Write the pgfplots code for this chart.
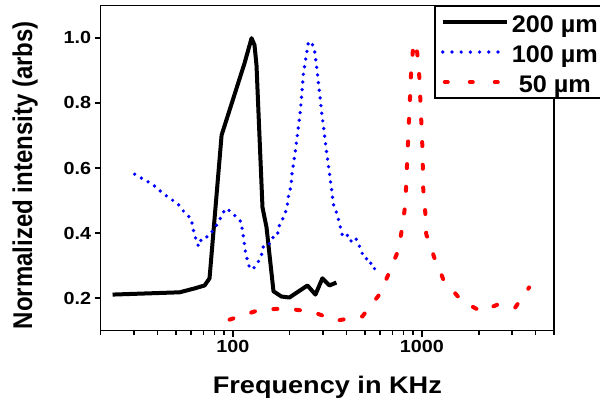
\documentclass[border=0pt]{standalone}
\usepackage{fontspec}
\setmainfont{Liberation Sans}[FakeStretch=1.13]
\newfontfamily\ylabfont{Liberation Sans}
\newfontfamily\legfont{Liberation Sans}[FakeStretch=1.05]
\usepackage{graphicx}
\usepackage{pgfplots}
\pgfplotsset{compat=1.18}

\begin{document}
\begin{tikzpicture}
\begin{axis}[
  at={(0,0)}, anchor=south west,
  width=453.3pt, height=325.4pt, scale only axis,
  xmode=log, xmin=20, xmax=5000,
  ymin=0.1, ymax=1.1,
  xtick={100,1000}, xticklabels={100,1000},
  minor xtick={20,30,40,50,60,70,80,90,200,300,400,500,600,700,800,900,2000,3000,4000,5000},
  ytick={0.2,0.4,0.6,0.8,1.0}, yticklabels={0.2,0.4,0.6,0.8,1.0},
  tick align=outside, xtick pos=left, ytick pos=left,
  major tick length=6pt, minor tick length=4pt,
  every tick/.style={black, line width=1.5pt},
  every minor tick/.style={black, line width=1.5pt},
  axis line style={line width=1.5pt},
  tick label style={font=\bfseries\fontsize{17.5}{20}\selectfont},
  xlabel={Frequency in KHz},
  xlabel style={at={([yshift=-62.3pt]axis description cs:0.5,0)}, anchor=base,
    font=\bfseries\fontsize{24}{28}\selectfont},
  ylabel={\scalebox{1}[1.13]{Normalized intensity (arbs)}},
  ylabel style={at={([xshift=-68.7pt]axis description cs:0,0.478)}, anchor=base,
    font=\ylabfont\bfseries\fontsize{24}{28}\selectfont},
  legend style={at={(axis description cs:0.7353,1)}, anchor=north west,
    draw=black, line width=1.5pt,
    font=\legfont\bfseries\fontsize{24}{28}\selectfont,
    cells={anchor=center}, inner xsep=6pt, inner ysep=5pt,
    nodes={inner sep=0pt, text height=21pt, text depth=1pt},
    row sep=8pt, column sep=3pt},
]
% 200 um
\addplot[black, line width=4pt, line join=round,
  legend image code/.code={\draw[black, line width=4pt] (0pt,0pt) -- (64pt,0pt);}]
  table {
23.1 0.211
52.3 0.218
62.8 0.230
70.9 0.239
75.3 0.261
87.2 0.701
115.3 0.922
125.6 0.999
130.2 0.978
133.4 0.916
143.5 0.479
150.7 0.418
164.1 0.221
180.8 0.205
199.3 0.202
248.1 0.239
273.5 0.211
297.7 0.261
324.3 0.239
353.0 0.248
};
\addlegendentry{200 µm}
% 100 um
\addplot[blue, line width=3.7pt, line cap=round, dash pattern=on 0pt off 7.7pt,
  legend image code/.code={\draw[blue, line width=3.7pt, line cap=round, dash pattern=on 0pt off 9.2pt] (0pt,0pt) -- (64pt,0pt);}]
  table {
30.26 0.581
33.76 0.565
37.65 0.550
41.5 0.528
46.3 0.507
51.0 0.491
54.9 0.467
60.5 0.442
61.2 0.418
62.8 0.396
64.3 0.374
65.9 0.359
68.4 0.384
74.4 0.390
79.1 0.411
84.0 0.433
88.2 0.461
92.6 0.476
100.9 0.458
111.2 0.433
112.0 0.411
113.9 0.387
115.3 0.362
116.7 0.341
119.6 0.316
122.5 0.294
127.1 0.288
135.0 0.307
141.8 0.331
143.5 0.353
147.0 0.365
158.2 0.368
164.1 0.390
172.3 0.393
174.4 0.418
183.0 0.442
189.8 0.464
194.5 0.488
196.9 0.513
201.8 0.538
204.2 0.559
205.7 0.584
214.4 0.654
227.9 0.778
236.3 0.891
251.1 0.987
260.4 0.987
270.2 0.965
280.2 0.891
294.2 0.778
312.6 0.654
328.2 0.562
332.2 0.538
340.4 0.488
353.0 0.464
361.8 0.442
370.7 0.418
379.8 0.393
398.7 0.399
418.6 0.374
444.8 0.387
461.3 0.368
478.5 0.344
496.3 0.322
533.9 0.319
540.4 0.294
581.2 0.288
};
\addlegendentry{100 µm}
% 50 um
\addplot[red, line width=4pt, line cap=round, dash pattern=on 4pt off 18.7pt,
  legend image code/.code={\draw[red, line width=4pt, line cap=round, dash pattern=on 3pt off 22pt] (2pt,0pt) -- (64pt,0pt);}]
  table {
96.1 0.134
140.1 0.165
189.8 0.168
260.4 0.159
353.0 0.131
484.6 0.144
595.7 0.211
672.6 0.279
750.4 0.347
788.0 0.418
817.2 0.488
827.2 0.556
837.3 0.630
847.6 0.698
857.9 0.768
868.5 0.836
879.0 0.907
900.8 0.974
923.1 0.987
945.6 0.953
968.9 0.882
980.8 0.814
992.9 0.744
1004.9 0.673
1011.0 0.605
1017.1 0.534
1042.3 0.464
1055.0 0.396
1163.0 0.325
1297.5 0.258
1615.6 0.193
2060.0 0.159
2533.0 0.181
3114.0 0.171
3694.0 0.233
};
\addlegendentry{50 µm}
\end{axis}
\pgfresetboundingbox
\path[use as bounding box] (-100.7pt,-69.3pt) rectangle (499.3pt,330.7pt);
\end{tikzpicture}
\end{document}
